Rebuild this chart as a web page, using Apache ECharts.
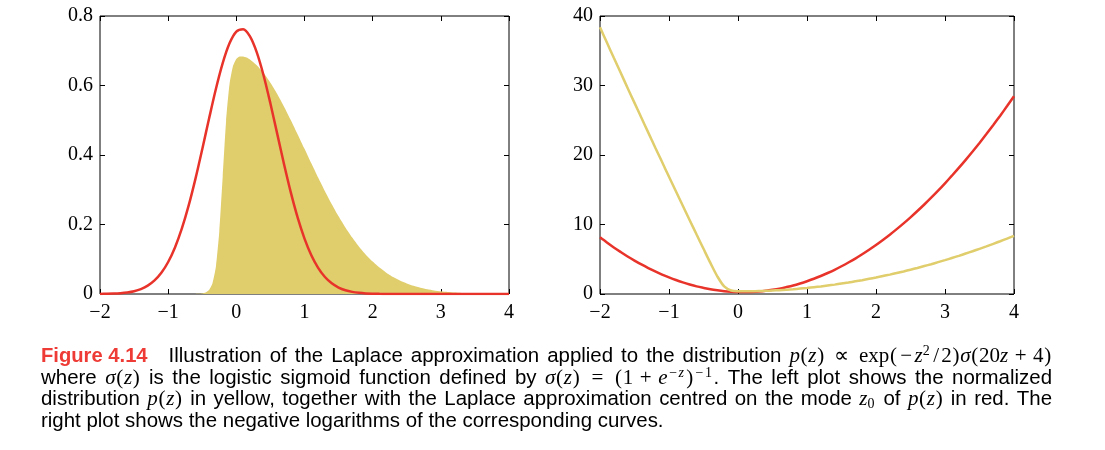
<!DOCTYPE html>
<html>
<head>
<meta charset="utf-8">
<script src="https://cdn.jsdelivr.net/npm/echarts@6/dist/echarts.min.js"></script>
<style>
  html, body { margin: 0; padding: 0; background: #fff; }
  #chart { width: 1105px; height: 450px; }
</style>
</head>
<body>
<div id="chart"></div>
<script>
// ---- data ----
const zGrid = [-2.0,-1.9,-1.8,-1.7,-1.6,-1.5,-1.4,-1.3,-1.2,-1.1,-1.0,-0.9,-0.8,-0.7,-0.6,-0.5,-0.4,-0.3,-0.2,-0.1,
  0.0,0.1,0.2,0.3,0.4,0.5,0.6,0.7,0.8,0.9,1.0,1.1,1.2,1.3,1.4,1.5,1.6,1.7,1.8,1.9,
  2.0,2.1,2.2,2.3,2.4,2.5,2.6,2.7,2.8,2.9,3.0,3.1,3.2,3.3,3.4,3.5,3.6,3.7,3.8,3.9,4.0];

// left plot: Laplace approximation (red)
const laplaceLeft = [0.0003,0.0006,0.0012,0.0024,0.0045,0.0081,0.0142,0.0240,0.0390,0.0610,0.0921,0.1340,0.1879,0.2542,0.3314,0.4167,0.5049,0.5899,0.6644,0.7214,
  0.7552,0.7621,0.7415,0.6955,0.6289,0.5482,0.4608,0.3733,0.2916,0.2196,
  0.1594,0.1116,0.0753,0.0490,0.0307,0.0186,0.0108,0.0061,0.0033,0.0017,
  0.0009,0.0004,0.0002,0.0001,0,0,0,0,0,0,0,0,0,0,0,0,0,0,0,0,0];

// left plot: normalized distribution p(z) (yellow, filled)
const zYellowLeft = [-2.0,-1.0,-0.7,-0.6,-0.55,-0.5,-0.45,-0.4,-0.35,-0.3,-0.25,-0.2,-0.15,-0.1,-0.05,0.0,0.05,0.1,0.15,0.2,
  0.3,0.4,0.5,0.6,0.7,0.8,0.9,1.0,1.1,1.2,1.3,1.4,1.5,1.6,1.7,1.8,1.9,
  2.0,2.1,2.2,2.3,2.4,2.5,2.6,2.7,2.8,2.9,3.0,3.1,3.2,3.3,3.4,3.5,3.6,3.7,3.8,3.9,4.0];
const pLeft = [0,0,0,0.0002,0.0005,0.0015,0.0042,0.0114,0.0307,0.0785,0.1795,0.3375,0.4979,0.6035,0.6552,0.6763,0.6832,0.6835,0.6804,0.6748,
  0.6584,0.6357,0.6078,0.5753,0.5390,0.5001,0.4593,
  0.4177,0.3761,0.3352,0.2959,0.2585,0.2236,0.1915,0.1623,0.1363,0.1133,
  0.0932,0.0760,0.0612,0.0489,0.0387,0.0302,0.0234,0.0180,0.0137,0.0103,
  0.0077,0.0056,0.0041,0.0030,0.0021,0.0015,0.0011,0.0007,0.0005,0.0003,0.0002];

// right plot: negative logarithms
const laplaceRight = [8.15,7.41,6.70,6.04,5.40,4.81,4.25,3.73,3.25,2.80,2.39,2.01,1.67,1.37,1.10,0.88,0.68,0.53,0.41,0.33,
  0.28,0.27,0.30,0.36,0.46,0.60,0.77,0.99,1.23,1.52,
  1.84,2.19,2.59,3.02,3.48,3.99,4.53,5.10,5.72,6.37,
  7.05,7.77,8.53,9.33,10.16,11.03,11.94,12.88,13.86,14.87,
  15.93,17.02,18.14,19.30,20.50,21.74,23.01,24.32,25.66,27.04,28.46];
const pRight = [38.37,36.18,33.99,31.82,29.65,27.50,25.35,23.22,21.09,18.98,16.87,14.78,12.69,10.62,8.55,6.50,4.47,2.55,1.09,0.51,
  0.39,0.38,0.39,0.42,0.45,0.50,0.55,0.62,0.69,0.78,
  0.87,0.98,1.09,1.22,1.35,1.50,1.65,1.82,1.99,2.18,
  2.37,2.58,2.79,3.02,3.25,3.50,3.75,4.02,4.29,4.58,
  4.87,5.18,5.49,5.82,6.15,6.50,6.85,7.22,7.59,7.98,8.37];

const xTicks = {min: -2, max: 4, interval: 1};
const yTicksLeft = {min: 0, max: 0.8, interval: 0.2};
const yTicksRight = {min: 0, max: 40, interval: 10};

// caption text, as [style, text] segments per line
const captionLines = [
  [['b','Figure 4.14'],['t','Illustration of the Laplace approximation applied to the distribution '],
   ['m','p'],['pa','('],['m','z'],['pa',')'],['rel','\u221d'],['r','exp'],['pa','('],['um','\u2212'],['m','z'],['s','2'],['sl','/'],['r','2'],['pa',')'],
   ['m','\u03c3'],['pa','('],['r','20'],['m','z'],['bin','+'],['r','4'],['pa',')']],
  [['t','where '],['m','\u03c3'],['pa','('],['m','z'],['pa',')'],['t',' is the logistic sigmoid function defined by '],
   ['m','\u03c3'],['pa','('],['m','z'],['pa',')'],['rel','='],['pa','('],['r','1'],['bin','+'],['m','e'],['sm','\u2212'],['si','z'],['pa',')'],['sm','\u2212'],['s','1'],
   ['t','. The left plot shows the normalized']],
  [['t','distribution '],['m','p'],['pa','('],['m','z'],['pa',')'],['t',' in yellow, together with the Laplace approximation centred on the mode '],
   ['m','z'],['sub','0'],['t',' of '],['m','p'],['pa','('],['m','z'],['pa',')'],['t',' in red. The']],
  [['t','right plot shows the negative logarithms of the corresponding curves.']]
];
const captionJustify = [true, true, true, false];

// ---- chart ----
const RED = '#e8332a';
const YEL = '#e0cd6c';
const tickFont = {fontFamily: 'Liberation Serif', fontSize: 20, color: '#000'};
const zip = (xs, ys) => xs.map((x, i) => [x, ys[i]]);
const fmtX = v => (v < 0 ? '\u2212' + Math.abs(v) : String(v));

function xAx(gi, pos, labels) {
  return {
    type: 'value', gridIndex: gi, position: pos, ...xTicks,
    axisLine: {show: false, onZero: false},
    axisTick: {show: true, inside: true, length: 5, lineStyle: {color: '#000', width: 1}},
    axisLabel: labels ? {show: true, margin: 9, formatter: fmtX, ...tickFont} : {show: false},
    splitLine: {show: false}
  };
}
function yAx(gi, pos, labels, ticks, fmt) {
  return {
    type: 'value', gridIndex: gi, position: pos, ...ticks,
    axisLine: {show: false, onZero: false},
    axisTick: {show: true, inside: true, length: 5, lineStyle: {color: '#000', width: 1}},
    axisLabel: labels ? {show: true, margin: 7, padding: [3, 0, 0, 0], formatter: fmt, ...tickFont} : {show: false},
    splitLine: {show: false}
  };
}

const serif = 'Liberation Serif';
const sans = 'Liberation Sans';
const FS = 20.45, MS = 21, SS = 14, LH = 24;
const baseRich = {
  b: {fontFamily: sans, fontWeight: 'bold', fontSize: 20.2, fill: '#ee3b35', lineHeight: LH, padding: [0, 21, 0, 0]},
  t: {fontFamily: sans, fontSize: FS, fill: '#000', lineHeight: LH},
  m: {fontFamily: serif, fontStyle: 'italic', fontSize: MS, fill: '#000', lineHeight: LH},
  r: {fontFamily: serif, fontSize: MS, fill: '#000', lineHeight: LH},
  pa: {fontFamily: serif, fontSize: MS, fill: '#000', lineHeight: LH, width: 8.4, align: 'center'},
  sl: {fontFamily: serif, fontSize: MS, fill: '#000', lineHeight: LH, width: 10, align: 'center'},
  rel: {fontFamily: serif, fontSize: MS, fill: '#000', lineHeight: LH, width: 34, align: 'center'},
  bin: {fontFamily: serif, fontSize: MS, fill: '#000', lineHeight: LH, width: 25, align: 'center'},
  um: {fontFamily: serif, fontSize: MS, fill: '#000', lineHeight: LH, width: 17, align: 'center'},
  s: {fontFamily: serif, fontSize: SS, fill: '#000', lineHeight: SS, verticalAlign: 'top', padding: [0, 1.5, 0, 0]},
  sm: {fontFamily: serif, fontSize: SS, fill: '#000', lineHeight: SS, verticalAlign: 'top', width: 11, align: 'center'},
  si: {fontFamily: serif, fontStyle: 'italic', fontSize: SS, fill: '#000', lineHeight: SS, verticalAlign: 'top', padding: [0, 1.5, 0, 0]},
  sub: {fontFamily: serif, fontSize: SS, fill: '#000', lineHeight: SS, verticalAlign: 'bottom', padding: [0, 1.5, 0, 0]}
};
const ctx = document.createElement('canvas').getContext('2d');
function measure(styleName, text) {
  const st = baseRich[styleName];
  let w;
  if (st.width != null) w = st.width;
  else {
    ctx.font = [st.fontStyle || 'normal', st.fontWeight || 'normal', st.fontSize + 'px', st.fontFamily].join(' ');
    w = ctx.measureText(text).width;
  }
  if (st.padding) w += st.padding[1] + st.padding[3];
  return w;
}
const CAP_LEFT = 41, CAP_RIGHT = 1052;
function buildLine(segs, justify, idx) {
  // split sans text at spaces so that gaps can be stretched (justified caption)
  const tokens = [];
  segs.forEach(([s, txt]) => {
    if (s === 't') {
      txt.split(/( )/).forEach(p => { if (p === ' ') tokens.push(['gap', ' ']); else if (p) tokens.push(['t', p]); });
    } else tokens.push([s, txt]);
  });
  const spaceW = measure('t', ' ');
  let fixed = 0, nGap = 0;
  tokens.forEach(([s, txt]) => { if (s === 'gap') nGap++; else fixed += measure(s, txt); });
  let gapW = spaceW;
  if (justify && nGap) gapW = (CAP_RIGHT - CAP_LEFT - fixed) / nGap;
  const gapName = 'g' + idx;
  const rich = {};
  rich[gapName] = {fontFamily: sans, fontSize: FS, lineHeight: LH, width: gapW, fill: '#000'};
  const text = tokens.map(([s, txt]) => '{' + (s === 'gap' ? gapName : s) + '|' + txt + '}').join('');
  return {text, rich};
}
const captionTop = [344, 366, 389, 411];
const richAll = Object.assign({}, baseRich);
const captionTexts = captionLines.map((segs, i) => {
  const r = buildLine(segs, captionJustify[i], i);
  Object.assign(richAll, r.rich);
  return r.text;
});

const chart = echarts.init(document.getElementById('chart'), null, {renderer: 'canvas'});
chart.setOption({
  animation: false,
  backgroundColor: '#fff',
  grid: [
    {left: 100, top: 16, width: 409, height: 278, show: true, borderColor: '#000', borderWidth: 1, backgroundColor: 'transparent'},
    {left: 600, top: 16, width: 414, height: 278, show: true, borderColor: '#000', borderWidth: 1, backgroundColor: 'transparent'}
  ],
  xAxis: [xAx(0, 'bottom', true), xAx(0, 'top', false), xAx(1, 'bottom', true), xAx(1, 'top', false)],
  yAxis: [
    yAx(0, 'left', true, yTicksLeft, v => (v === 0 ? '0' : v.toFixed(1))),
    yAx(0, 'right', false, yTicksLeft),
    yAx(1, 'left', true, yTicksRight, v => String(v)),
    yAx(1, 'right', false, yTicksRight)
  ],
  series: [
    {type: 'line', xAxisIndex: 0, yAxisIndex: 0, data: zip(zYellowLeft, pLeft), showSymbol: false, smooth: 0.2,
     lineStyle: {width: 0, color: YEL}, areaStyle: {color: YEL, opacity: 1}, itemStyle: {color: YEL}},
    {type: 'line', xAxisIndex: 0, yAxisIndex: 0, data: zip(zGrid, laplaceLeft), showSymbol: false, smooth: 0.3,
     lineStyle: {width: 2.5, color: RED}, itemStyle: {color: RED}},
    {type: 'line', xAxisIndex: 2, yAxisIndex: 2, data: zip(zGrid, laplaceRight), showSymbol: false, smooth: 0.3,
     lineStyle: {width: 2.5, color: RED}, itemStyle: {color: RED}},
    {type: 'line', xAxisIndex: 2, yAxisIndex: 2, data: zip(zGrid, pRight), showSymbol: false, smooth: 0.3,
     lineStyle: {width: 2.5, color: YEL}, itemStyle: {color: YEL}}
  ],
  graphic: captionTexts.map((txt, i) => ({
    type: 'text', left: CAP_LEFT, top: captionTop[i],
    style: {text: txt, rich: richAll, fill: '#000', fontFamily: sans, fontSize: FS}
  }))
});
</script>
</body>
</html>
